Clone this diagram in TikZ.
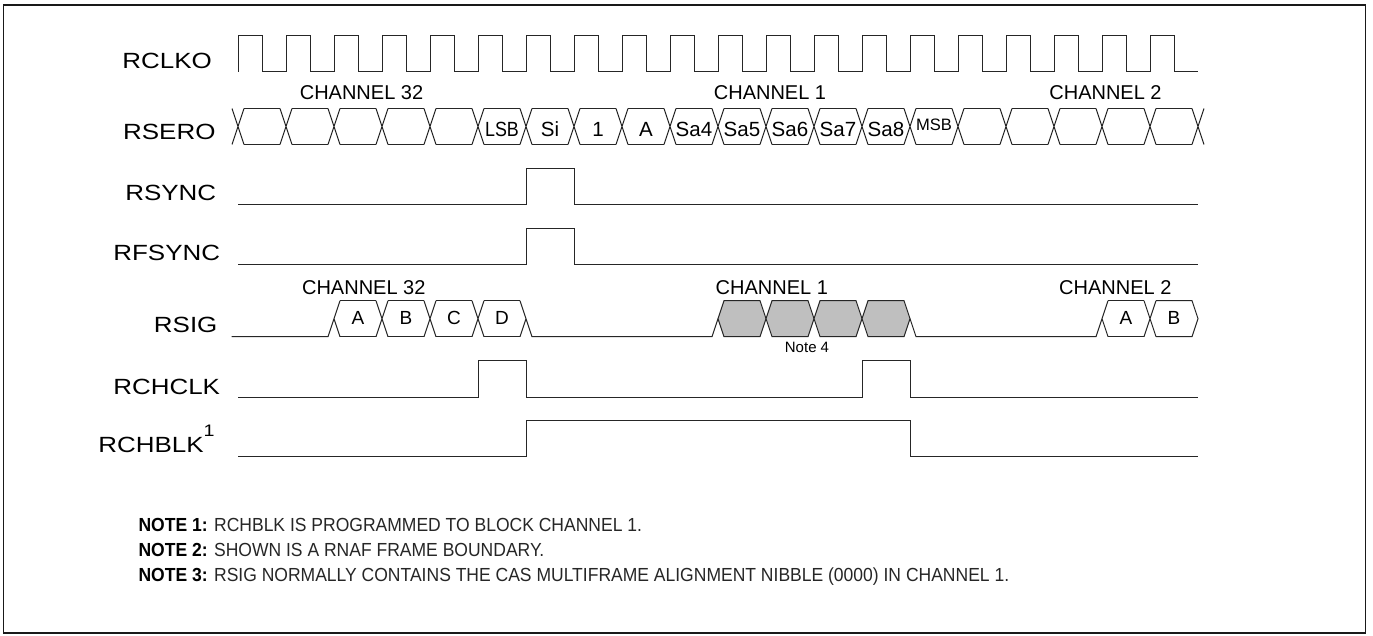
\documentclass[tikz,border=0pt]{standalone}
\usepackage{fontspec}
\setmainfont{Liberation Sans}
\newfontfamily\lblfont{Liberation Sans}[FakeStretch=1.18]
\newfontfamily\notefont{Liberation Sans}[FakeStretch=0.925]
\begin{document}
\begin{tikzpicture}[x=0.75pt,y=-0.75pt,
  wave/.style={line width=0.75pt, draw=black!85, line join=miter},
  frame/.style={line width=1.4pt, draw=black!90},
  lbl/.style={inner sep=0, anchor=base, font=\lblfont\fontsize{16.5}{18}\selectfont},
  chan/.style={inner sep=0, anchor=base, font=\fontsize{15}{17}\selectfont},
  cell/.style={inner sep=0, anchor=base, font=\fontsize{15.4}{17}\selectfont},
  sigtxt/.style={inner sep=0, anchor=base, font=\fontsize{14.25}{16}\selectfont},
  smalltxt/.style={inner sep=0, anchor=base, font=\fontsize{11.25}{13}\selectfont},
  notetxt/.style={inner sep=0, anchor=base west, text=black!85, font=\notefont\fontsize{14.2}{16}\selectfont},
  grayhex/.style={wave, fill=black!25}]
\useasboundingbox (0,0) rectangle (1373,635);
\draw[frame] (3.5,5) rectangle (1365.5,633);

% ---------- signal labels ----------
\node[lbl] (lclk) at (167.2,68.3) {RCLKO};
\node[lbl] (lser) at (169.3,139) {RSERO};
\node[lbl] (lsync) at (170.8,200.7) {RSYNC};
\node[lbl] (lfsync) at (166.7,260.7) {RFSYNC};
\node[lbl] (lsig) at (185.7,332.7) {RSIG};
\node[lbl] (lchclk) at (166.7,394.3) {RCHCLK};
\node[lbl] (lchblk) at (156.5,452.7) {RCHBLK\raisebox{12pt}{\fontsize{12.5}{13}\selectfont 1}};

% ---------- RCLKO ----------
\draw[wave] (238,72) \foreach \k in {0,...,19} { -- ({238+48*\k},36) -- ({262+48*\k},36) -- ({262+48*\k},72) -- ({286+48*\k},72) };

% ---------- RSERO ----------
\foreach \k in {0,...,20} {
  \draw[wave] ({232+48*\k},108.5) -- ({244+48*\k},144.5) ({232+48*\k},144.5) -- ({244+48*\k},108.5);
}
\foreach \k in {0,...,19} {
  \draw[wave] ({244+48*\k},108.5) -- ({280+48*\k},108.5) ({244+48*\k},144.5) -- ({280+48*\k},144.5);
}
\node[chan] (sch32) at (361.5,99) {CHANNEL 32};
\node[chan] (sch1) at (770,99) {CHANNEL 1};
\node[chan] (sch2) at (1105.5,99) {CHANNEL 2};
\node[cell] (cLSB) at (502,136.7) {\scalebox{0.87}[1]{LSB}};
\node[cell] (cSi) at (550,136.7) {Si};
\node[cell] (cOne) at (598,136.7) {1};
\node[cell] (cA) at (646,136.7) {A};
\node[cell] (cSa4) at (694,136.7) {Sa4};
\node[cell] (cSa5) at (742,136.7) {Sa5};
\node[cell] (cSa6) at (790,136.7) {Sa6};
\node[cell] (cSa7) at (838,136.7) {Sa7};
\node[cell] (cSa8) at (886,136.7) {Sa8};
\node[inner sep=0, anchor=base, font=\fontsize{12.4}{14}\selectfont] (cMSB) at (934,130) {MSB};

% ---------- RSYNC / RFSYNC ----------
\draw[wave] (238,204.3) -- (526,204.3) -- (526,168.5) -- (574,168.5) -- (574,204.3) -- (1198,204.3);
\draw[wave] (238,264) -- (526,264) -- (526,228.3) -- (574,228.3) -- (574,264) -- (1198,264);

% ---------- RSIG ----------
% channel 32
\draw[wave] (231.7,336.7) -- (328,336.7) -- (340,300.7) (334,318.7) -- (340,336.7);
\foreach \c in {382,430,478} {
  \draw[wave] ({\c-6},300.7) -- ({\c+6},336.7) ({\c-6},336.7) -- ({\c+6},300.7);
}
\foreach \a/\b in {334/382,382/430,430/478,478/526} {
  \draw[wave] ({\a+6},300.7) -- ({\b-6},300.7) ({\a+6},336.7) -- ({\b-6},336.7);
}
\draw[wave] (520,300.7) -- (532,336.7) -- (712,336.7) -- (718,318.7) (520,336.7) -- (526,318.7);
% channel 1 (gray)
\foreach \a/\b in {718/766,766/814,814/862,862/910} {
  \filldraw[grayhex] (\a,318.7) -- ({\a+6},300.7) -- ({\b-6},300.7) -- (\b,318.7) -- ({\b-6},336.7) -- ({\a+6},336.7) -- cycle;
}
\draw[wave] (910,318.7) -- (916,336.7) -- (1096,336.7) -- (1108,300.7) (1102,318.7) -- (1108,336.7);
% channel 2
\draw[wave] (1144,300.7) -- (1156,336.7) (1144,336.7) -- (1156,300.7);
\draw[wave] (1108,300.7) -- (1144,300.7) (1108,336.7) -- (1144,336.7);
\draw[wave] (1156,300.7) -- (1192,300.7) -- (1198,318.7) -- (1192,336.7) -- (1156,336.7);
\node[chan] (rch32) at (363.8,294) {CHANNEL 32};
\node[chan] (rch1) at (771.8,294) {CHANNEL 1};
\node[chan] (rch2) at (1115.3,294) {CHANNEL 2};
\node[sigtxt] (sA) at (358,324) {A};
\node[sigtxt] (sB) at (406,324) {B};
\node[sigtxt] (sC) at (454,324) {C};
\node[sigtxt] (sD) at (502,324) {D};
\node[sigtxt] (sA2) at (1126,324) {A};
\node[sigtxt] (sB2) at (1174,324) {B};
\node[smalltxt] (note4) at (807,352.7) {Note 4};

% ---------- RCHCLK / RCHBLK ----------
\draw[wave] (238,397) -- (478,397) -- (478,360.7) -- (526,360.7) -- (526,397) -- (862,397) -- (862,360.7) -- (910,360.7) -- (910,397) -- (1198,397);
\draw[wave] (238,456.7) -- (526,456.7) -- (526,420.7) -- (910,420.7) -- (910,456.7) -- (1198,456.7);

% ---------- notes ----------
\node[notetxt] (n1) at (138.3,531.7) {\textbf{\color{black}NOTE 1:} RCHBLK IS PROGRAMMED TO BLOCK CHANNEL 1.};
\node[notetxt] (n2) at (138.3,556.7) {\textbf{\color{black}NOTE 2:} SHOWN IS A RNAF FRAME BOUNDARY.};
\node[notetxt] (n3) at (138.3,581.7) {\textbf{\color{black}NOTE 3:} RSIG NORMALLY CONTAINS THE CAS MULTIFRAME ALIGNMENT NIBBLE (0000) IN CHANNEL 1.};
\end{tikzpicture}
\end{document}
